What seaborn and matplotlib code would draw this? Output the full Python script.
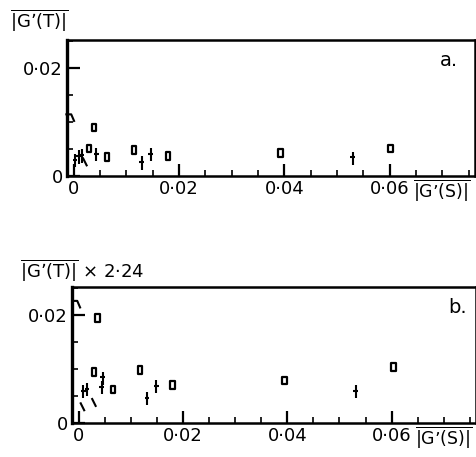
import numpy as np
import pandas as pd
import seaborn as sns
import matplotlib.pyplot as plt
from matplotlib.path import Path
from matplotlib.ticker import MultipleLocator, FixedLocator

# panel a : |G'(T)| against |G'(S)|
a_square_x = [0.0038, 0.0029, 0.0063, 0.0114, 0.0179, 0.0393, 0.0602]
a_square_y = [0.0090, 0.0051, 0.0035, 0.0048, 0.0037, 0.0042, 0.0051]
a_plus_x = [0.0002, 0.0009, 0.0015, 0.0043, 0.0129, 0.0146, 0.0530]
a_plus_y = [0.0029, 0.0035, 0.0037, 0.0039, 0.0024, 0.0039, 0.0033]
a_slash_x = [0.0021]
a_slash_y = [0.0026]
a_hook_x = [-0.0006]
a_hook_y = [0.0108]

# panel b : |G'(T)| x 2.24 against |G'(S)|
b_square_x = [0.0036, 0.0029, 0.0066, 0.0117, 0.0180, 0.0395, 0.0604]
b_square_y = [0.0194, 0.0094, 0.0062, 0.0098, 0.0070, 0.0079, 0.0104]
b_plus_x = [0.0009, 0.0016, 0.0046, 0.0044, 0.0131, 0.0149, 0.0531]
b_plus_y = [0.0058, 0.0062, 0.0083, 0.0066, 0.0045, 0.0068, 0.0058]
b_slash_x = [0.0007, 0.0029]
b_slash_y = [0.0030, 0.0038]
b_hook_x = [-0.0004]
b_hook_y = [0.0220]

xtick_vals = [0, 0.02, 0.04, 0.06]
xtick_text = ['0', '0·02', '0·04', '0·06']
ytick_vals = [0, 0.02]
ytick_text = ['0', '0·02']

sns.set_style('ticks', {'axes.edgecolor': 'black', 'text.color': 'black',
                        'xtick.color': 'black', 'ytick.color': 'black',
                        'axes.labelcolor': 'black'})
plt.rcParams['font.family'] = ['DejaVu Sans']
plt.rcParams['mathtext.fontset'] = 'dejavusans'
plt.rcParams['mathtext.default'] = 'regular'

square = Path([(-0.6, -1), (0.6, -1), (0.6, 1), (-0.6, 1), (-0.6, -1)],
              [Path.MOVETO, Path.LINETO, Path.LINETO, Path.LINETO, Path.CLOSEPOLY])
plus = Path([(0, -1), (0, 1), (-0.35, 0.1), (0.35, 0.1)],
            [Path.MOVETO, Path.LINETO, Path.MOVETO, Path.LINETO])
slash = Path([(-0.5, 1), (0.5, -1)], [Path.MOVETO, Path.LINETO])
hook = Path([(-1, 0.6), (0.1, 0.6), (0.7, -0.8)], [Path.MOVETO, Path.LINETO, Path.LINETO])


def frame(xs, ys):
    return pd.DataFrame({'x': xs, 'y': ys})


fig = plt.figure(figsize=(4.77, 4.57), dpi=100)
ax_a = fig.add_axes([0.1405, 0.615, 0.855, 0.298])
ax_b = fig.add_axes([0.151, 0.0744, 0.847, 0.298])

panels = [
    (ax_a, a_square_x, a_square_y, a_plus_x, a_plus_y, a_slash_x, a_slash_y, a_hook_x, a_hook_y, 'a.', 0.915),
    (ax_b, b_square_x, b_square_y, b_plus_x, b_plus_y, b_slash_x, b_slash_y, b_hook_x, b_hook_y, 'b.', 0.93),
]

for ax, sx, sy, px, py, lx, ly, hx, hy, tag, tagx in panels:
    sns.scatterplot(data=frame(sx, sy), x='x', y='y', ax=ax, marker=square, s=30,
                    facecolor='none', edgecolor='black', linewidth=1.6, clip_on=False)
    sns.scatterplot(data=frame(px, py), x='x', y='y', ax=ax, marker=plus, s=90,
                    facecolor='none', edgecolor='black', linewidth=1.5, clip_on=False)
    sns.scatterplot(data=frame(lx, ly), x='x', y='y', ax=ax, marker=slash, s=40,
                    facecolor='none', edgecolor='black', linewidth=1.5, clip_on=False)
    sns.scatterplot(data=frame(hx, hy), x='x', y='y', ax=ax, marker=hook, s=60,
                    facecolor='none', edgecolor='black', linewidth=1.5, clip_on=False)
    ax.set_xlim(-0.0013, 0.0762)
    ax.set_ylim(0, 0.0252)
    ax.set_xlabel('')
    ax.set_ylabel('')
    ax.xaxis.set_major_locator(FixedLocator(xtick_vals))
    ax.set_xticklabels(xtick_text)
    ax.xaxis.set_minor_locator(MultipleLocator(0.005))
    ax.yaxis.set_major_locator(FixedLocator(ytick_vals))
    ax.set_yticklabels(ytick_text)
    ax.yaxis.set_minor_locator(MultipleLocator(0.005))
    ax.tick_params(which='major', direction='in', length=9, width=1.6, labelsize=13, pad=3)
    ax.tick_params(which='minor', direction='in', length=4, width=1.2)
    for side in ax.spines:
        ax.spines[side].set_visible(True)
        ax.spines[side].set_linewidth(1.8)
    ax.spines['left'].set_linewidth(2.4)
    ax.text(tagx, 0.85, tag, transform=ax.transAxes, fontsize=14, ha='left', va='center')
    ax.text(0.848, -0.01, r"$\overline{|G’(S)|}$", transform=ax.transAxes,
            fontsize=12.5, ha='left', va='top')

ax_a.text(-0.14, 1.05, r"$\overline{|G’(T)|}$", transform=ax_a.transAxes,
          fontsize=13, ha='left', va='bottom')
ax_b.text(-0.13, 1.03, r"$\overline{|G’(T)|}$ × 2·24", transform=ax_b.transAxes,
          fontsize=13, ha='left', va='bottom')

fig.savefig('out.png', dpi=100)
